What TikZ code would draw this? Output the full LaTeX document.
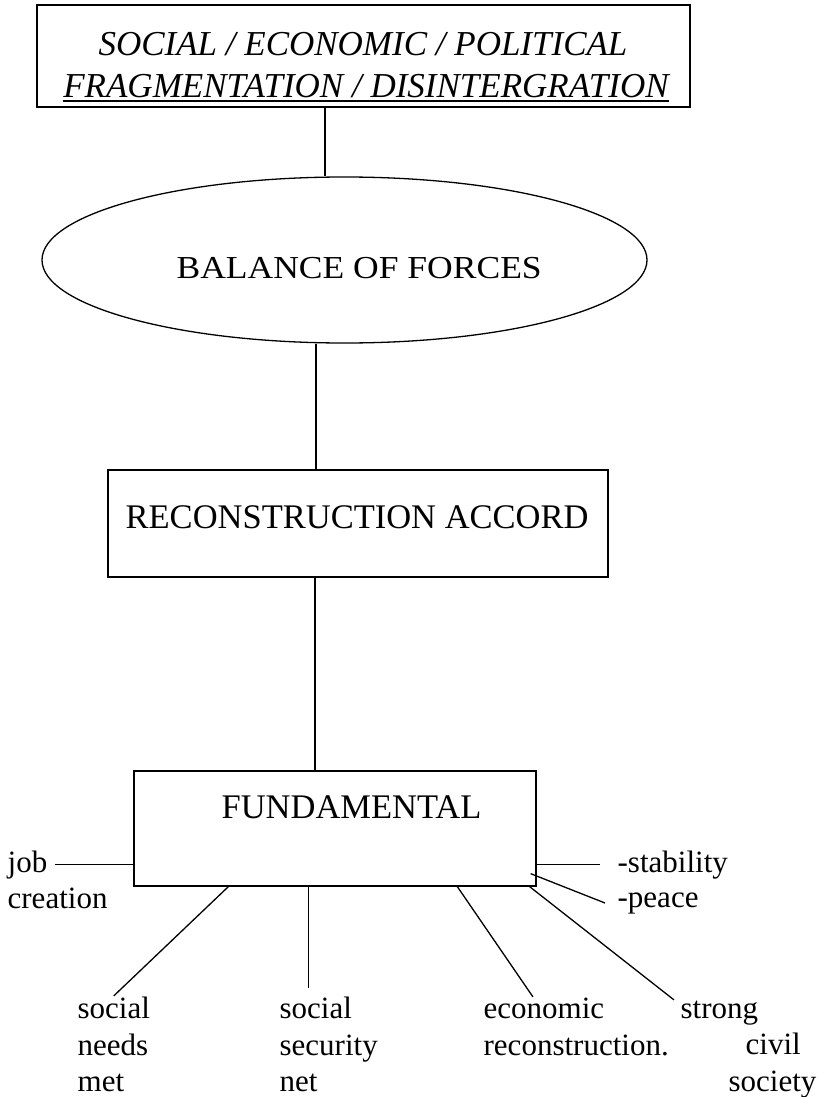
\documentclass[tikz,border=0pt]{standalone}
\usepackage{fontspec}
\setmainfont{Liberation Serif}
\newfontfamily\wideserif[FakeStretch=1.11]{Liberation Serif}
\usetikzlibrary{shapes.geometric}
\begin{document}
\begin{tikzpicture}[x=1pt,y=-1pt,line width=1.3pt,
  frame/.style={draw,rectangle,inner sep=0pt},
  txt/.style={inner sep=0pt,anchor=base west},
  title/.style={inner sep=0pt,anchor=base,font=\fontsize{35}{42}\selectfont\itshape},
  head/.style={txt,font=\fontsize{34.5}{41}\selectfont},
  lbl/.style={txt,font=\fontsize{31}{37}\selectfont},
  link/.style={draw,line width=1.3pt}]
\useasboundingbox (0,0) rectangle (821,1097);

% top box
\node[frame,minimum width=653pt,minimum height=102pt] (crisis) at (363.5,56) {};
\node[title] (crisisA) at (363,56) {SOCIAL / ECONOMIC / POLITICAL};
\node[title] (crisisB) at (366,98) {FRAGMENTATION / DISINTERGRATION};
\draw[line width=1.2pt] ([yshift=-3pt]crisisB.base west) -- ([yshift=-3pt]crisisB.base east);

% ellipse
\node[draw,ellipse,minimum width=605pt,minimum height=166pt,inner sep=0pt] (bal) at (344.5,260) {};
\node[inner sep=0pt,anchor=base west,font=\fontsize{32}{38}\wideserif] (balT) at (176,278) {BALANCE OF FORCES};

% reconstruction accord
\node[frame,minimum width=500pt,minimum height=107pt] (rec) at (358,523.5) {};
\node[head] (recT) at (125,528) {RECONSTRUCTION ACCORD};

% fundamental
\node[frame,minimum width=402pt,minimum height=115pt] (fund) at (335,828.5) {};
\node[head] (fundT) at (221,818) {FUNDAMENTAL};

% vertical spine
\draw[link] ([xshift=-38.5pt]crisis.south) -- ([xshift=-38.5pt]crisis.south |- bal.north);
\draw[link] ([xshift=-42pt]rec.north) -- ([xshift=-42pt]rec.north |- bal.south);
\draw[link] ([xshift=-20pt]fund.north) -- ([xshift=-20pt]fund.north |- rec.south);

% side labels
\node[lbl] (job) at (7,872) {job};
\node[lbl] (creation) at (7,908) {creation};
\node[lbl] (stab) at (617,872) {-stability};
\node[lbl] (peace) at (617,907) {-peace};

% bottom labels
\node[lbl] (sn1) at (77,1018) {social};
\node[lbl] (sn2) at (77,1055) {needs};
\node[lbl] (sn3) at (77,1091) {met};
\node[lbl] (ss1) at (279,1018) {social};
\node[lbl] (ss2) at (279,1055) {security};
\node[lbl] (ss3) at (279,1091) {net};
\node[lbl] (ec1) at (483,1018) {economic};
\node[lbl] (ec2) at (483,1055) {reconstruction.};
\node[lbl] (st1) at (680,1018) {strong};
\node[lbl] (st2) at (745,1054) {civil};
\node[lbl] (st3) at (728,1091) {society};

% connectors from the fundamental box
\draw[link] ([xshift=7pt]job.east) -- (job.east -| fund.west);
\draw[link] (stab.west -| fund.east) -- ([xshift=-17pt]stab.west);
\draw[link] ([xshift=-6pt,yshift=13pt]fund.south east) -- ([xshift=-12pt]peace.west);
\draw[link] ([xshift=95pt]fund.south west) -- (sn1.north);
\coordinate (ssFoot) at ([xshift=175pt]fund.south west);
\coordinate (ssTop) at ([yshift=8pt]ss1.north);
\draw[link] (ssFoot) -- (ssFoot |- ssTop);
\draw[link] ([xshift=324pt]fund.south west) -- ([xshift=-11pt]ec1.north);
\draw[link] ([xshift=-7pt]fund.south east) -- ([xshift=-6pt]st1.north west);
\end{tikzpicture}
\end{document}
